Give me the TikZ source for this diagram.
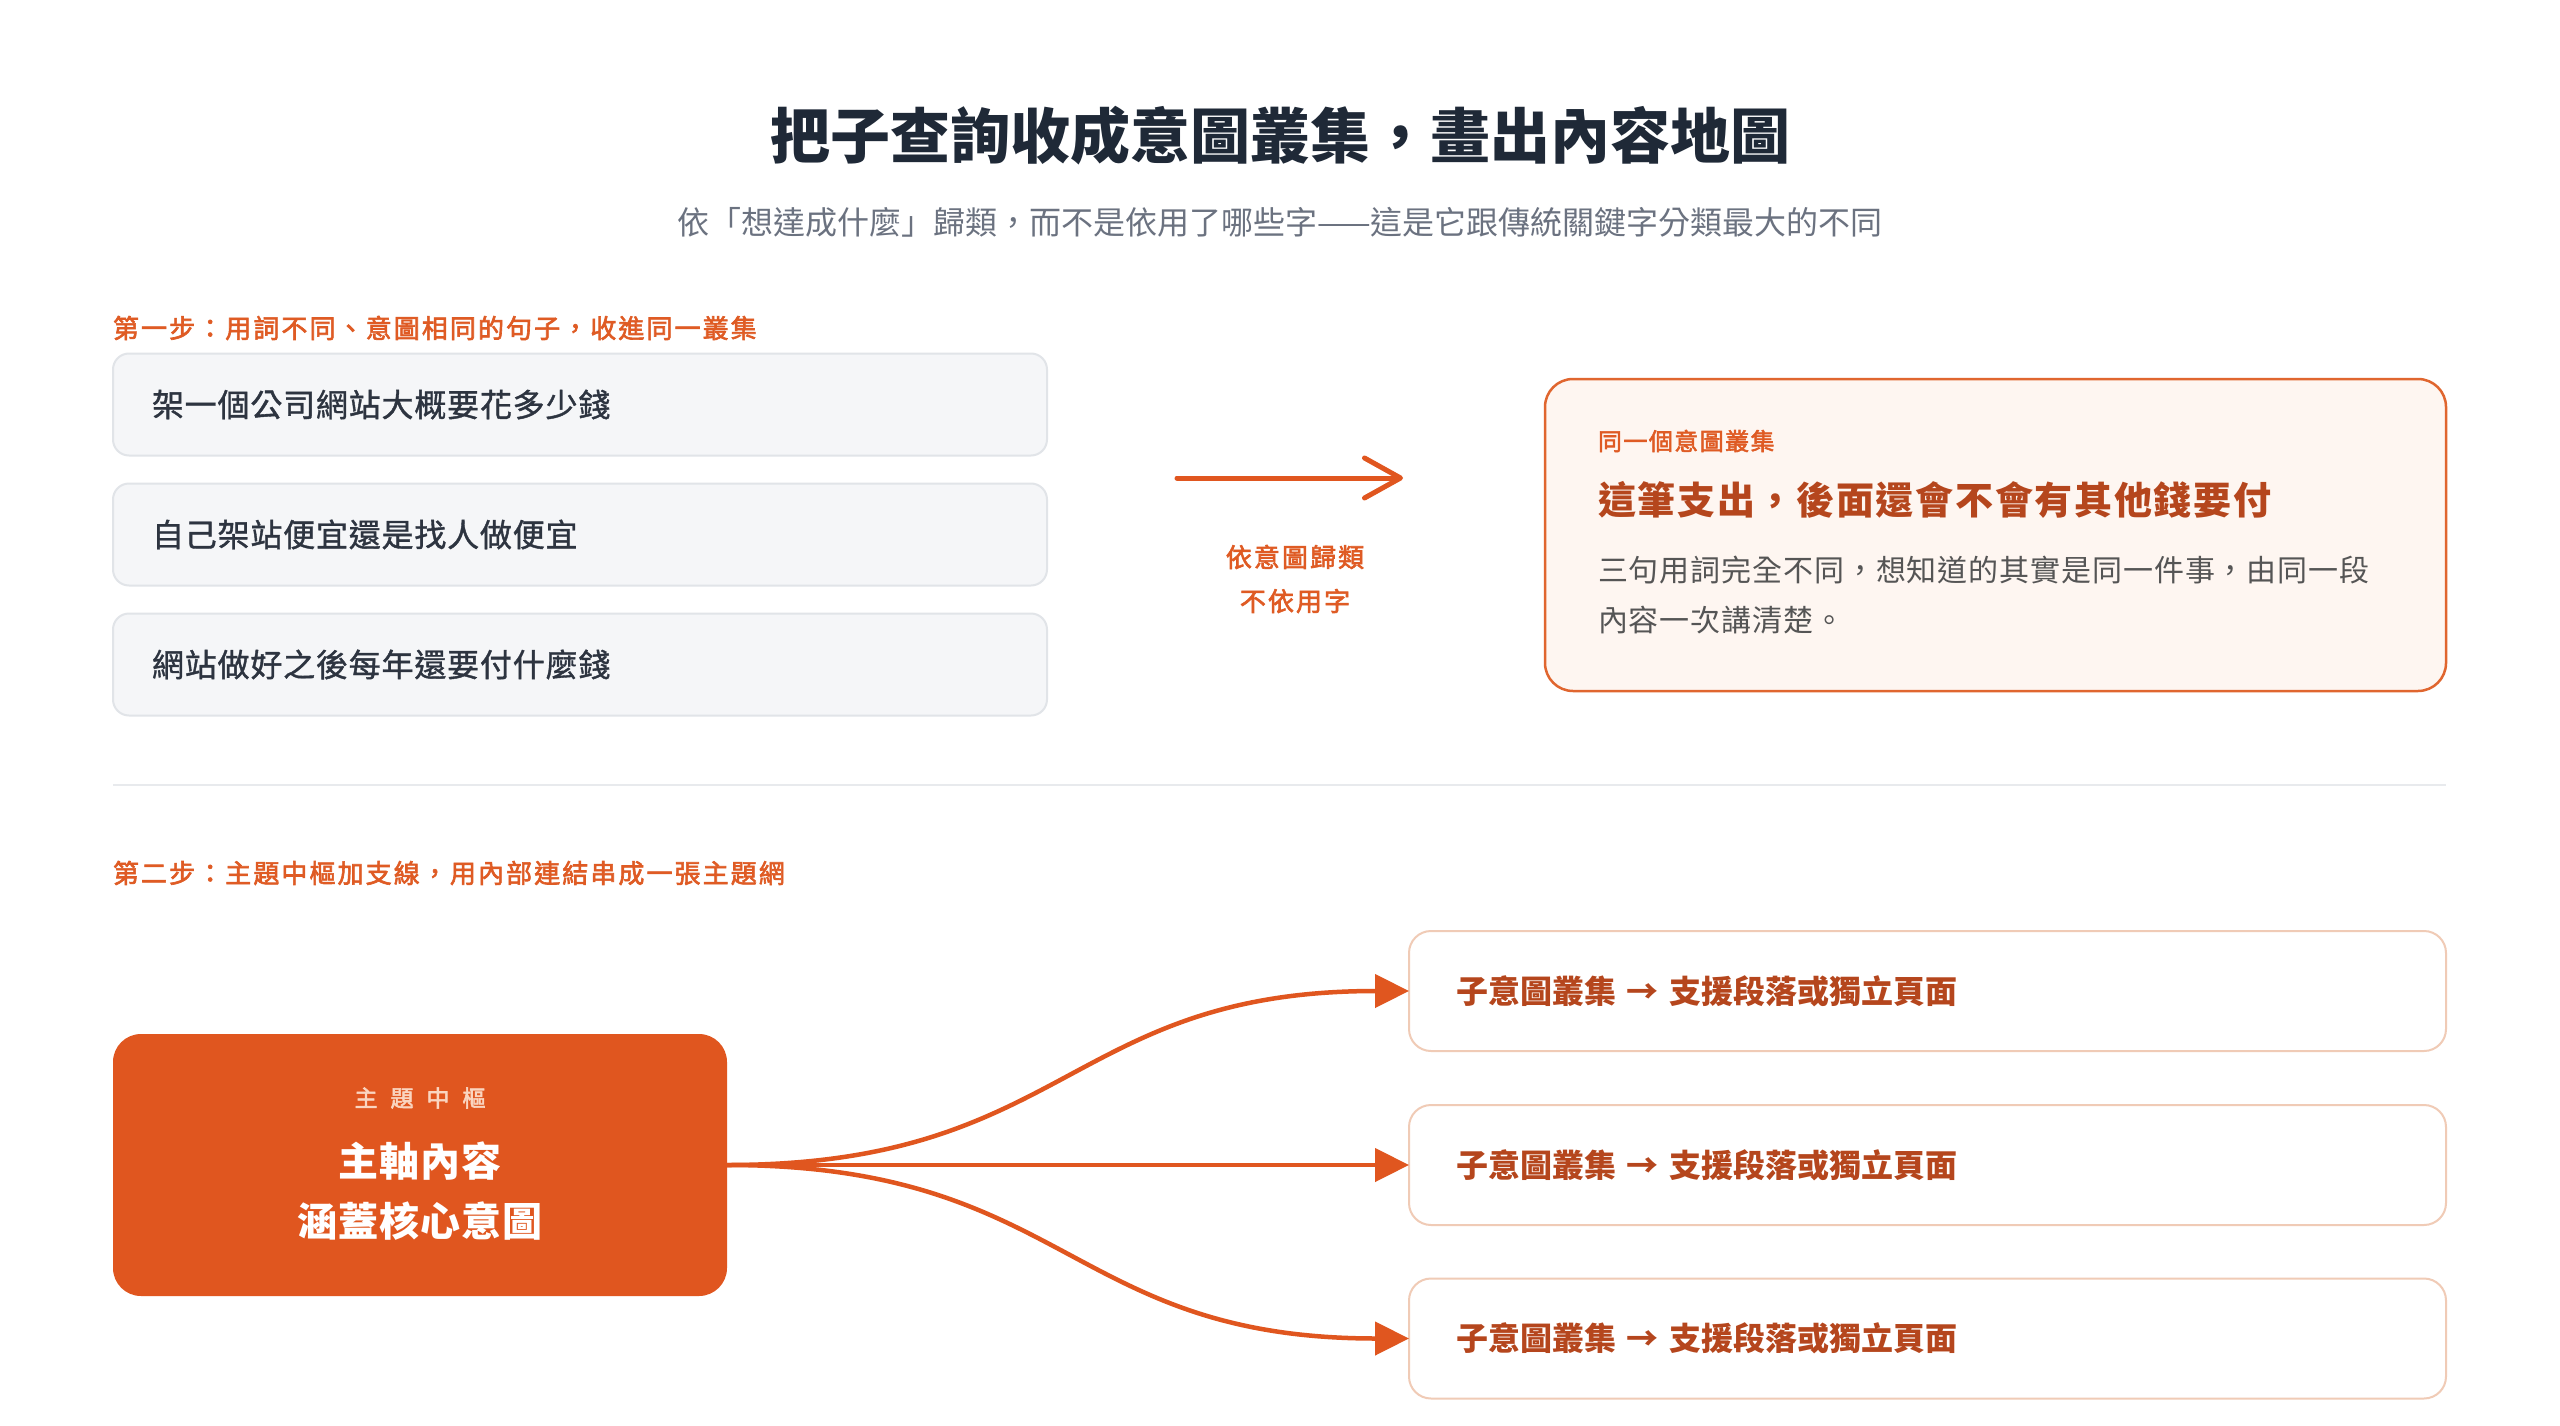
\documentclass[tikz,border=0pt]{standalone}
\usepackage{fontspec}
\setmainfont{Noto Sans CJK TC}
\newfontfamily\cjkmed{Noto Sans CJK TC}[FakeBold=1.2]
\newfontfamily\cjksemi{Noto Sans CJK TC}[FakeBold=2.4]
\usetikzlibrary{arrows.meta}
\definecolor{titlec}{HTML}{1F2937}
\definecolor{subc}{HTML}{6B7280}
\definecolor{labelc}{HTML}{DF5B24}
\definecolor{accent}{HTML}{E0561F}
\definecolor{deep}{HTML}{B5461D}
\definecolor{qfill}{HTML}{F5F6F8}
\definecolor{qline}{HTML}{E1E4E8}
\definecolor{qtext}{HTML}{2D3440}
\definecolor{cardfill}{HTML}{FEF6F1}
\definecolor{cardline}{HTML}{E0662F}
\definecolor{bodyc}{HTML}{555555}
\definecolor{tline}{HTML}{F0CBB6}
\definecolor{hubsub}{HTML}{FAD5C0}
\definecolor{divc}{HTML}{E8EAED}
\tikzset{
  every node/.style={outer sep=0pt, inner sep=0pt},
  steplabel/.style={anchor=west, text=labelc, font=\cjksemi\fontsize{26}{30}\selectfont\addfontfeatures{LetterSpace=8}},
  qbox/.style={draw=qline, fill=qfill, line width=2pt, rounded corners=16pt, minimum height=102pt, text width=856pt, inner xsep=39pt, align=left, text=qtext, font=\cjkmed\fontsize{32}{38}\selectfont\addfontfeatures{LetterSpace=2.5}},
  arrlabel/.style={align=center, text=labelc, font=\cjksemi\fontsize{26}{44}\selectfont\addfontfeatures{LetterSpace=8}},
  card/.style={draw=cardline, fill=cardfill, line width=2.5pt, rounded corners=28pt, minimum width=901pt, minimum height=312pt},
  hub/.style={fill=accent, rounded corners=28pt, minimum width=614pt, minimum height=262pt},
  tbox/.style={draw=tline, fill=white, line width=2pt, rounded corners=22pt, minimum height=120pt, text width=943pt, inner xsep=47pt, align=left, text=deep, font=\bfseries\fontsize{32}{38}\selectfont},
  conn/.style={draw=accent, line width=4.5pt, -{Triangle[length=34pt,width=33pt]}},
  openarrow/.style={draw=accent, line width=5pt, line cap=round, -{Straight Barb[length=36pt,width=40pt,line cap=round,line join=round]}},
  divider/.style={draw=divc, line width=2pt}
}
\begin{document}
\begin{tikzpicture}[x=1pt,y=-1pt]
\useasboundingbox (0,0) rectangle (2560,1426);
\fill[white] (0,0) rectangle (2560,1426);

% header
\node[text=titlec, font=\bfseries\fontsize{60}{72}\selectfont] (title) at (1280,136) {把子查詢收成意圖叢集，畫出內容地圖};
\node[text=subc, font=\fontsize{32}{38}\selectfont] (subtitle) at (1280,222) {依「想達成什麼」歸類，而不是依用了哪些字——這是它跟傳統關鍵字分類最大的不同};

% step 1
\node[steplabel] (step1) at (113,328) {第一步：用詞不同、意圖相同的句子，收進同一叢集};
\node[qbox] (q1) at (580,404.5) {架一個公司網站大概要花多少錢};
\node[qbox] (q2) at (580,534.5) {自己架站便宜還是找人做便宜};
\node[qbox] (q3) at (580,664.5) {網站做好之後每年還要付什麼錢};

\coordinate (a1s) at (1177,478);
\coordinate (a1e) at (1403,478);
\draw[openarrow] (a1s) -- (a1e);
\node[arrlabel] (albl) at (1295,579) {依意圖歸類\\不依用字};

\node[card] (card) at (1995.5,535) {};
\node[anchor=west, text=labelc, font=\cjksemi\fontsize{24}{28}\selectfont\addfontfeatures{LetterSpace=6}] (cardtag) at (1598,441) {同一個意圖叢集};
\node[anchor=west, text=deep, font=\bfseries\fontsize{38}{44}\selectfont\addfontfeatures{LetterSpace=4.5}] (cardhead) at (1598,500) {這筆支出，後面還會不會有其他錢要付};
\node[anchor=west, text=bodyc, align=left, font=\fontsize{30}{50}\selectfont\addfontfeatures{LetterSpace=3}] (cardbody) at (1598,595) {三句用詞完全不同，想知道的其實是同一件事，由同一段\\內容一次講清楚。};

% divider
\coordinate (dl) at (113,785);
\coordinate (dr) at (2446,785);
\draw[divider] (dl) -- (dr);

% step 2
\node[steplabel] (step2) at (113,873) {第二步：主題中樞加支線，用內部連結串成一張主題網};
\node[hub] (hub) at (420,1165) {};
\node[text=hubsub, font=\cjksemi\fontsize{23}{26}\selectfont] (hubtag) at (420,1098) {主\hspace{13pt}題\hspace{13pt}中\hspace{13pt}樞};
\node[text=white, align=center, font=\bfseries\fontsize{40}{60}\selectfont\addfontfeatures{LetterSpace=2.5}] (hubmain) at (420,1191) {主軸內容\\涵蓋核心意圖};

\node[tbox] (t1) at (1927.5,991) {子意圖叢集 → 支援段落或獨立頁面};
\node[tbox] (t2) at (1927.5,1165) {子意圖叢集 → 支援段落或獨立頁面};
\node[tbox] (t3) at (1927.5,1338.5) {子意圖叢集 → 支援段落或獨立頁面};

\draw[conn] (hub.east) to[out=0,in=180,distance=341pt] (t1.west);
\draw[conn] (hub.east) -- (t2.west);
\draw[conn] (hub.east) to[out=0,in=180,distance=341pt] (t3.west);
\end{tikzpicture}
\end{document}
